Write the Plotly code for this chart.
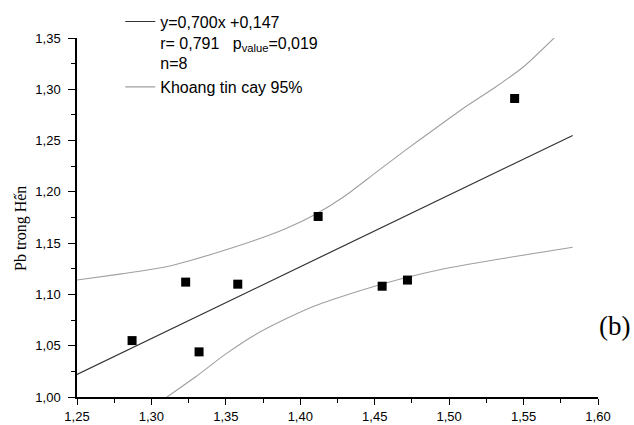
import plotly.graph_objects as go

# Measured points (Pb in sediment vs Pb in Hến)
pts_x = [1.287, 1.323, 1.332, 1.358, 1.412, 1.455, 1.472, 1.544]
pts_y = [1.055, 1.112, 1.044, 1.110, 1.176, 1.108, 1.114, 1.291]

# Regression line y=0,700x+0,147 (end points as drawn)
fit_x = [1.25, 1.583]
fit_y = [1.022, 1.255]

# 95% confidence band
upper_x = [1.25, 1.28, 1.31, 1.34, 1.37, 1.39, 1.41, 1.43, 1.45, 1.47, 1.49, 1.51, 1.53, 1.55, 1.5705]
upper_y = [1.114, 1.120, 1.127, 1.139, 1.153, 1.164, 1.178, 1.196, 1.218, 1.240, 1.261, 1.282, 1.301, 1.322, 1.350]
lower_x = [1.3104, 1.33, 1.35, 1.37, 1.39, 1.41, 1.43, 1.45, 1.47, 1.50, 1.54, 1.583]
lower_y = [1.000, 1.020, 1.042, 1.061, 1.076, 1.089, 1.099, 1.108, 1.116, 1.126, 1.136, 1.146]

x_ticks = [1.25, 1.30, 1.35, 1.40, 1.45, 1.50, 1.55, 1.60]
y_ticks = [1.00, 1.05, 1.10, 1.15, 1.20, 1.25, 1.30, 1.35]

SANS = "Liberation Sans, Arial, sans-serif"
SERIF = "Liberation Serif, Times New Roman, serif"

fig = go.Figure()
fig.add_trace(go.Scatter(
    x=fit_x, y=fit_y, mode="lines",
    line=dict(color="#333333", width=1.2),
    name="y=0,700x +0,147<br>r= 0,791&nbsp;&nbsp;&nbsp;p<sub>value</sub>=0,019<br>n=8",
))
fig.add_trace(go.Scatter(
    x=upper_x, y=upper_y, mode="lines",
    line=dict(color="#a0a0a0", width=1.1, shape="spline", smoothing=0.6),
    name="Khoang tin cay 95%", legendgroup="ci",
))
fig.add_trace(go.Scatter(
    x=lower_x, y=lower_y, mode="lines",
    line=dict(color="#a0a0a0", width=1.1, shape="spline", smoothing=0.6),
    name="Khoang tin cay 95%", legendgroup="ci", showlegend=False,
))
fig.add_trace(go.Scatter(
    x=pts_x, y=pts_y, mode="markers",
    marker=dict(symbol="square", size=9, color="black"),
    showlegend=False, name="data",
))

axis_common = dict(
    showline=True, linecolor="black", linewidth=1.5,
    ticks="outside", tickcolor="black", tickwidth=1.2,
    showgrid=False, zeroline=False, automargin=False,
    tickformat=".2f",
    tickfont=dict(family=SANS, size=13, color="black"),
    minor=dict(ticks="outside", ticklen=4, dtick=0.025, tickcolor="black", tickwidth=1.2, showgrid=False),
)

fig.update_layout(
    template="none",
    width=634, height=425,
    margin=dict(l=77, r=36, t=38, b=28, autoexpand=False),
    paper_bgcolor="white", plot_bgcolor="white",
    separators=", ",
    xaxis=dict(range=[1.25, 1.60], tickvals=x_ticks, ticklen=6, ticklabelstandoff=1, **axis_common),
    yaxis=dict(range=[1.00, 1.35], tickvals=y_ticks, ticklen=7, ticklabelstandoff=5, **axis_common),
    legend=dict(
        x=0.083, y=1.093, xanchor="left", yanchor="top",
        font=dict(family=SANS, size=16, color="black"),
        bgcolor="rgba(0,0,0,0)", valign="top", tracegroupgap=0,
    ),
    annotations=[
        dict(text="Pb trong Hến", textangle=-90, xref="paper", yref="paper",
             x=-0.1087, y=0.469, xanchor="center", yanchor="middle", showarrow=False,
             font=dict(family=SERIF, size=16, color="black")),
        dict(text="(b)", xref="paper", yref="paper", x=1.032, y=0.197,
             xanchor="center", yanchor="middle",
             showarrow=False, font=dict(family=SERIF, size=27, color="black")),
    ],
)

fig.write_html("out.html", config={"displayModeBar": False},
               post_script="document.body.style.margin='0px';")
